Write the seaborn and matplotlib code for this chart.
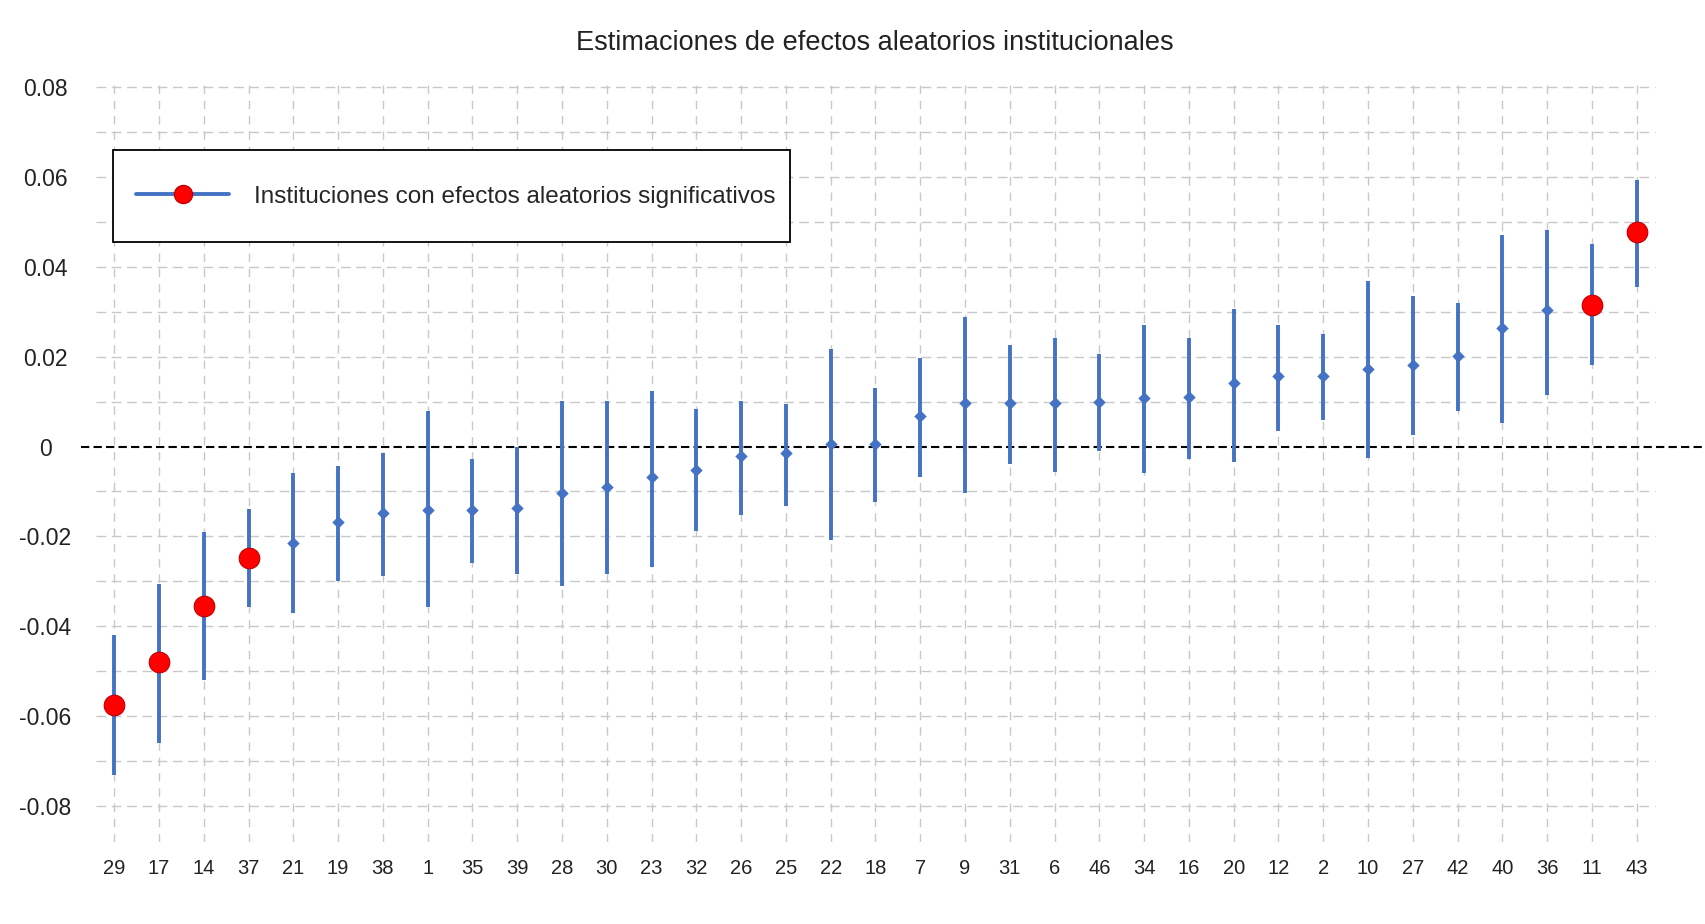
import numpy as np
import pandas as pd
import seaborn as sns
import matplotlib.pyplot as plt
from matplotlib.lines import Line2D
from matplotlib.patches import Rectangle

# Datos: instituciones ordenadas por efecto estimado
instituciones = ["29", "17", "14", "37", "21", "19", "38", "1", "35", "39",
                 "28", "30", "23", "32", "26", "25", "22", "18", "7", "9",
                 "31", "6", "46", "34", "16", "20", "12", "2", "10", "27",
                 "42", "40", "36", "11", "43"]
estimacion = [-0.0574, -0.0480, -0.0354, -0.0247, -0.0215, -0.0169, -0.0148, -0.0141, -0.0141, -0.0137,
              -0.0104, -0.0089, -0.0068, -0.0052, -0.0022, -0.0015, 0.0005, 0.0005, 0.0067, 0.0096,
              0.0096, 0.0096, 0.0100, 0.0107, 0.0111, 0.0141, 0.0157, 0.0157, 0.0172, 0.0181,
              0.0202, 0.0263, 0.0304, 0.0316, 0.0478]
limite_inf = [-0.0730, -0.0659, -0.0519, -0.0356, -0.0370, -0.0300, -0.0287, -0.0357, -0.0259, -0.0284,
              -0.0311, -0.0284, -0.0267, -0.0189, -0.0152, -0.0132, -0.0209, -0.0124, -0.0067, -0.0104,
              -0.0039, -0.0056, -0.0009, -0.0059, -0.0027, -0.0035, 0.0035, 0.0059, -0.0026, 0.0026,
              0.0079, 0.0052, 0.0115, 0.0181, 0.0356]
limite_sup = [-0.0419, -0.0306, -0.0190, -0.0139, -0.0059, -0.0043, -0.0015, 0.0078, -0.0027, 0.0000,
              0.0101, 0.0102, 0.0124, 0.0083, 0.0102, 0.0094, 0.0216, 0.0131, 0.0196, 0.0289,
              0.0226, 0.0242, 0.0205, 0.0270, 0.0242, 0.0307, 0.0270, 0.0250, 0.0368, 0.0336,
              0.0319, 0.0470, 0.0481, 0.0450, 0.0593]
significativas = ["29", "17", "14", "37", "11", "43"]

y_ticks = [0.08, 0.06, 0.04, 0.02, 0, -0.02, -0.04, -0.06, -0.08]
y_tick_labels = ["0.08", "0.06", "0.04", "0.02", "0", "-0.02", "-0.04", "-0.06", "-0.08"]
titulo = "Estimaciones de efectos aleatorios institucionales"
etiqueta_leyenda = "Instituciones con efectos aleatorios significativos"

AZUL = "#4472C4"
ROJO = "#FF0000"
GRIS = "#c8c8c8"


def main():
    df = pd.DataFrame({
        "inst": instituciones,
        "est": estimacion,
        "inf": limite_inf,
        "sup": limite_sup,
    })
    df["pos"] = np.arange(len(df))
    df["sig"] = df["inst"].isin(significativas)

    sns.set_style("white")
    plt.rcParams["font.family"] = ["Liberation Sans", "DejaVu Sans"]

    fig = plt.figure(figsize=(17.05, 9.24), dpi=100)
    ax = fig.add_axes([0.0478, 0.0887, 0.9502, 0.8366])

    # rejilla discontinua
    ax.set_xlim(-0.73, 35.45)
    ax.set_ylim(-0.088, 0.084)
    for v in np.arange(-0.08, 0.0801, 0.01):
        if abs(v) > 1e-9:
            ax.hlines(v, -0.4, len(df) - 0.6, colors=GRIS, linewidth=1.0,
                      linestyles=(0, (7, 4)), zorder=0)
    ax.vlines(df["pos"], -0.088, 0.0805, colors=GRIS, linewidth=1.0,
              linestyles=(0, (6, 5)), zorder=0)
    ax.axhline(0, color="black", linewidth=1.5, linestyle=(0, (4, 2)), zorder=1)

    # intervalos
    ax.vlines(df["pos"], df["inf"], df["sup"], colors=AZUL, linewidth=2.8, zorder=2)

    sns.scatterplot(data=df[~df["sig"]], x="pos", y="est", ax=ax, marker="D",
                    s=40, color=AZUL, edgecolor=AZUL, linewidth=0, zorder=3, legend=False)
    sns.scatterplot(data=df[df["sig"]], x="pos", y="est", ax=ax, marker="o",
                    s=220, color=ROJO, edgecolor="#c00000", linewidth=0.8, zorder=4, legend=False)

    ax.set_xticks(df["pos"])
    ax.set_xticklabels(df["inst"], fontsize=14.5, color="#222222")
    ax.set_yticks(y_ticks)
    ax.set_yticklabels(y_tick_labels, fontsize=16.5, color="#222222", ha="center")
    ax.tick_params(axis="y", length=0, pad=26)
    ax.tick_params(axis="x", length=0, pad=12)
    ax.set_xlabel("")
    ax.set_ylabel("")
    for s in ax.spines.values():
        s.set_visible(False)

    fig.text(0.513, 0.953, titulo, ha="center", va="center", fontsize=19.5, color="#222222")

    # leyenda
    fig.patches.append(Rectangle((0.0663, 0.738), 0.397, 0.0996, transform=fig.transFigure,
                                 facecolor="white", edgecolor="black", linewidth=1.3, zorder=5))
    handle = Line2D([], [], color=AZUL, linewidth=2.8, marker="o", markersize=13,
                    markerfacecolor=ROJO, markeredgecolor="#c00000")
    fig.legend([handle], [etiqueta_leyenda], loc="center left",
               bbox_to_anchor=(0.0797, 0.787), frameon=False, fontsize=17.5,
               handlelength=3.85, handletextpad=1.0, borderpad=0, borderaxespad=0)

    fig.savefig("out.png", dpi=100, facecolor="white")


if __name__ == "__main__":
    main()
